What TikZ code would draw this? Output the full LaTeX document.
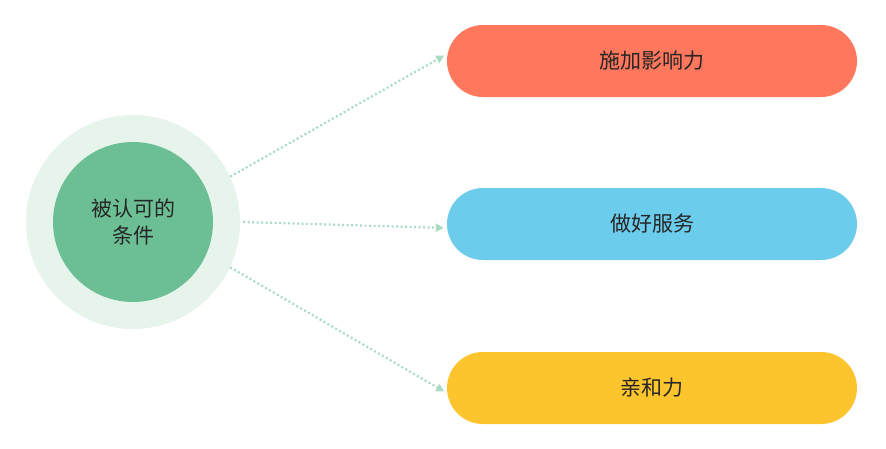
\documentclass[tikz,border=0pt]{standalone}
\usepackage{fontspec}
\newfontfamily\cjk{Noto Sans CJK SC}
\usetikzlibrary{arrows.meta}
\definecolor{ring}{HTML}{E6F4EC}
\definecolor{core}{HTML}{6CBF95}
\definecolor{dotc}{HTML}{A9DCC2}
\definecolor{red1}{HTML}{FF775C}
\definecolor{blue1}{HTML}{6CCCEC}
\definecolor{yel1}{HTML}{FCC42D}
\begin{document}
\begin{tikzpicture}[x=1pt,y=-1pt,
 pill/.style={rounded corners=36pt,minimum width=410pt,minimum height=72pt,inner sep=0pt,font=\cjk\fontsize{21}{24}\selectfont,text=black!85},
 link/.style={dotc,line width=2.2pt,dash pattern=on 2pt off 2.5pt,-{Triangle[length=8pt,width=8pt]},shorten >=3pt}]
\useasboundingbox (0,0) rectangle (886,448);
\node[circle,fill=ring,minimum size=214pt,inner sep=0pt] (c) at (133,222) {};
\node[circle,fill=core,minimum size=160pt,inner sep=0pt,align=center,font=\cjk\fontsize{21}{27}\selectfont,text=black!85] (ci) at (133,222) {被认可的\\条件};
\node[pill,fill=red1] (p1) at (652,61) {施加影响力};
\node[pill,fill=blue1] (p2) at (652,224) {做好服务};
\node[pill,fill=yel1] (p3) at (652,388) {亲和力};
\draw[link] (c.25) -- ([yshift=7pt]p1.west);
\draw[link] ([xshift=3pt]c.0) -- ([yshift=-4pt]p2.west);
\draw[link] (c.-25) -- ([yshift=-5pt]p3.west);
\end{tikzpicture}
\end{document}
